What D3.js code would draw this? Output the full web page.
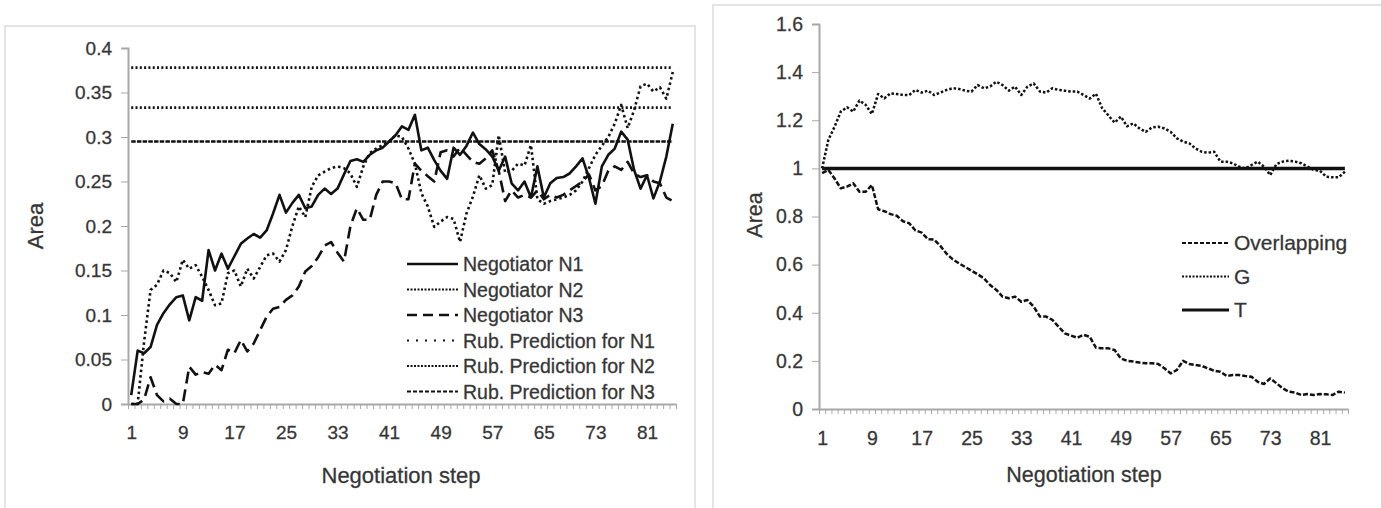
<!doctype html>
<html>
<head>
<script src="https://cdnjs.cloudflare.com/ajax/libs/d3/7.8.5/d3.min.js"></script>
<style>
body { margin: 0; background: #fff; }
text { font-family: "Liberation Sans", Arial, sans-serif; fill: #333; stroke: #444; stroke-width: 0.3px; }
.axis path, .axis line { stroke: #a8a8a8; }
</style>
</head>
<body>
<svg id="chart" width="1381" height="508"></svg>
<script>
// categories 1..85 (negotiation steps)
var steps = d3.range(1, 86);
var stepLabels = [1, 9, 17, 25, 33, 41, 49, 57, 65, 73, 81];

// left chart
var leftTicks = [0, 0.05, 0.1, 0.15, 0.2, 0.25, 0.3, 0.35, 0.4];
var n1 = [0.01,0.06,0.057,0.064,0.089,0.102,0.112,0.12,0.122,0.094,0.12,0.116,0.173,0.15,0.169,0.152,0.166,0.18,0.186,0.191,
  0.187,0.195,0.214,0.235,0.215,0.226,0.235,0.22,0.222,0.235,0.242,0.236,0.242,0.258,0.273,0.275,0.272,0.28,0.285,0.288,
  0.295,0.302,0.312,0.308,0.325,0.285,0.288,0.274,0.262,0.253,0.288,0.28,0.29,0.305,0.292,0.286,0.278,0.262,0.278,0.248,
  0.24,0.25,0.232,0.267,0.232,0.248,0.254,0.255,0.259,0.267,0.276,0.254,0.225,0.267,0.28,0.287,0.306,0.297,0.263,0.242,
  0.257,0.231,0.25,0.278,0.315];
var n2 = [0,0,0.07,0.128,0.134,0.15,0.147,0.137,0.162,0.152,0.156,0.143,0.128,0.111,0.113,0.147,0.15,0.132,0.152,0.141,
  0.154,0.167,0.169,0.16,0.173,0.2,0.222,0.21,0.244,0.257,0.261,0.265,0.267,0.265,0.259,0.244,0.267,0.282,0.287,0.291,
  0.295,0.302,0.3,0.287,0.27,0.237,0.222,0.199,0.205,0.21,0.208,0.182,0.214,0.233,0.257,0.242,0.246,0.302,0.26,0.262,
  0.27,0.268,0.291,0.23,0.225,0.228,0.23,0.232,0.235,0.24,0.25,0.265,0.28,0.29,0.3,0.315,0.336,0.31,0.33,0.357,
  0.36,0.351,0.356,0.343,0.373];
var n3 = [0,0,0.005,0.03,0.01,0.003,0.006,0,0,0.042,0.033,0.036,0.034,0.044,0.038,0.061,0.057,0.072,0.059,0.068,
  0.083,0.098,0.107,0.109,0.117,0.122,0.132,0.149,0.155,0.165,0.178,0.182,0.17,0.16,0.2,0.22,0.207,0.207,0.235,0.25,
  0.25,0.248,0.23,0.23,0.27,0.262,0.256,0.25,0.283,0.285,0.278,0.288,0.28,0.272,0.27,0.276,0.285,0.262,0.228,0.24,
  0.232,0.235,0.232,0.24,0.23,0.235,0.232,0.235,0.24,0.245,0.25,0.258,0.24,0.245,0.262,0.267,0.263,0.272,0.259,0.255,
  0.257,0.25,0.248,0.232,0.228];
var predNames = ["Rub. Prediction for N1", "Rub. Prediction for N2", "Rub. Prediction for N3"];
var predValues = [0.333, 0.378, 0.295];

// right chart
var rightTicks = [0, 0.2, 0.4, 0.6, 0.8, 1, 1.2, 1.4, 1.6];
var overlapping = [0.98,0.993,0.958,0.917,0.924,0.938,0.903,0.903,0.931,0.83,0.822,0.81,0.803,0.78,0.772,0.742,0.733,0.706,0.704,0.678,
  0.645,0.622,0.605,0.59,0.575,0.56,0.543,0.515,0.495,0.467,0.46,0.467,0.446,0.453,0.425,0.384,0.384,0.37,0.342,0.314,
  0.305,0.296,0.308,0.3,0.255,0.252,0.252,0.245,0.21,0.2,0.197,0.193,0.19,0.19,0.187,0.169,0.148,0.162,0.2,0.187,
  0.183,0.179,0.169,0.159,0.155,0.137,0.141,0.141,0.137,0.134,0.113,0.104,0.127,0.107,0.086,0.072,0.068,0.058,0.062,0.058,
  0.062,0.061,0.058,0.072,0.068];
var gSeries = [1,1.118,1.173,1.236,1.254,1.236,1.282,1.264,1.226,1.309,1.291,1.312,1.309,1.305,1.305,1.326,1.315,1.323,1.305,1.315,
  1.326,1.333,1.33,1.323,1.319,1.346,1.333,1.34,1.36,1.346,1.323,1.34,1.305,1.34,1.353,1.319,1.315,1.333,1.326,1.323,
  1.319,1.319,1.305,1.29,1.31,1.25,1.22,1.19,1.215,1.175,1.187,1.166,1.152,1.17,1.173,1.166,1.152,1.125,1.111,1.104,
  1.083,1.069,1.065,1.069,1.028,1.028,1.021,1.007,1,1.014,1.028,1.007,0.972,1.018,1.028,1.032,1.028,1.021,1.007,0.993,
  0.99,0.965,0.963,0.963,0.986];
var tValue = 1;

var svg = d3.select("#chart");

// panel frames
svg.append("rect").attr("x", 5).attr("y", 26).attr("width", 690).attr("height", 500)
  .attr("fill", "none").attr("stroke", "#dcdcdc").attr("stroke-width", 1.5);
svg.append("rect").attr("x", 713).attr("y", 5).attr("width", 680).attr("height", 520)
  .attr("fill", "none").attr("stroke", "#dcdcdc").attr("stroke-width", 1.5);

function drawPanel(opt) {
  var g = svg.append("g");
  var x = d3.scalePoint().domain(steps).range([opt.x0, opt.x1]).padding(0.5);
  var xb = d3.scaleLinear().domain([0, steps.length]).range([opt.x0, opt.x1]);
  var y = d3.scaleLinear().domain(opt.yDomain).range([opt.y0, opt.y1]);

  // y axis
  g.append("g").attr("class", "axis").attr("transform", "translate(" + opt.x0 + ",0)")
    .call(d3.axisLeft(y).tickValues(opt.yTicks).tickSize(7).tickPadding(9).tickFormat(d3.format("")))
    .call(a => a.select(".domain").attr("stroke-width", 2))
    .call(a => a.selectAll("text").style("font-size", opt.fs + "px").attr("fill", "#333"));

  // x axis: minor ticks between every category
  g.append("g").attr("class", "axis").attr("transform", "translate(0," + opt.y0 + ")")
    .call(d3.axisBottom(xb).tickValues(d3.range(0, steps.length + 1)).tickSize(5).tickFormat("").tickSizeOuter(0))
    .call(a => a.select(".domain").attr("stroke-width", 2));
  g.append("g").attr("transform", "translate(0," + opt.y0 + ")")
    .call(d3.axisBottom(x).tickValues(stepLabels).tickSize(0).tickPadding(opt.xPad))
    .call(a => a.select(".domain").remove())
    .call(a => a.selectAll("text").style("font-size", opt.fs + "px").attr("fill", "#333"));

  g.append("text").attr("transform", "translate(" + opt.yTitle[0] + "," + opt.yTitle[1] + ") rotate(-90)")
    .attr("text-anchor", "middle").style("font-size", opt.tfs + "px").text("Area");
  g.append("text").attr("x", opt.xTitle[0]).attr("y", opt.xTitle[1])
    .attr("text-anchor", "middle").style("font-size", opt.tfs + "px").text("Negotiation step");

  var line = d3.line().x((d, i) => x(steps[i])).y(d => y(d));
  opt.series.forEach(s => {
    if (s.constant !== undefined) {
      g.append("line").attr("x1", x(steps[0])).attr("x2", x(steps[steps.length - 1]))
        .attr("y1", y(s.constant)).attr("y2", y(s.constant))
        .attr("stroke", "#111").attr("stroke-width", s.w).attr("stroke-dasharray", s.dash);
    } else {
      g.append("path").datum(s.values).attr("d", line).attr("fill", "none")
        .attr("stroke", "#111").attr("stroke-width", s.w).attr("stroke-dasharray", s.dash)
        .attr("stroke-linejoin", "round");
    }
  });

  // legend
  opt.legend.forEach((s, i) => {
    var by = opt.legY + i * opt.legStep;
    g.append("line").attr("x1", opt.legX).attr("x2", opt.legX + opt.legLen)
      .attr("y1", by - 7).attr("y2", by - 7)
      .attr("stroke", "#111").attr("stroke-width", s.lw || s.w).attr("stroke-dasharray", s.ldash || s.dash);
    g.append("text").attr("x", opt.legX + opt.legLen + 5).attr("y", by)
      .style("font-size", opt.lfs + "px").text(s.name);
  });
}

var leftSeries = [
  {name: "Negotiator N1", values: n1, w: 2.6, dash: null},
  {name: "Negotiator N2", values: n2, w: 2.6, dash: "2.5,3", ldash: "2,1.5", lw: 2},
  {name: "Negotiator N3", values: n3, w: 2.6, dash: "12,6", ldash: "10,6"},
  {name: predNames[0], constant: predValues[0], w: 2.6, dash: "2,2.3", ldash: "2,7", lw: 2},
  {name: predNames[1], constant: predValues[1], w: 2.6, dash: "2,2.3", ldash: "2,1.5", lw: 2},
  {name: predNames[2], constant: predValues[2], w: 2.6, dash: "4.5,1.2", ldash: "4,2", lw: 2}
];
drawPanel({
  x0: 128, x1: 676, y0: 404, y1: 48, yDomain: [0, 0.4], yTicks: leftTicks,
  xPad: 22, fs: 19, tfs: 22, lfs: 19.5,
  yTitle: [43, 226], xTitle: [401, 483],
  series: leftSeries, legend: leftSeries,
  legX: 407, legY: 271, legStep: 25.5, legLen: 51
});

var rightSeries = [
  {name: "Overlapping", values: overlapping, w: 2.5, dash: "5,2", ldash: "4,2", lw: 2},
  {name: "G", values: gSeries, w: 2.5, dash: "2.5,2", ldash: "2,1.5", lw: 2},
  {name: "T", constant: tValue, w: 3.5, dash: null, lw: 3}
];
drawPanel({
  x0: 819, x1: 1348, y0: 409, y1: 24, yDomain: [0, 1.6], yTicks: rightTicks,
  xPad: 22, fs: 19.5, tfs: 21.5, lfs: 21,
  yTitle: [762, 215], xTitle: [1084, 482],
  series: rightSeries, legend: rightSeries,
  legX: 1182, legY: 250, legStep: 33.5, legLen: 47
});
</script>
</body>
</html>
